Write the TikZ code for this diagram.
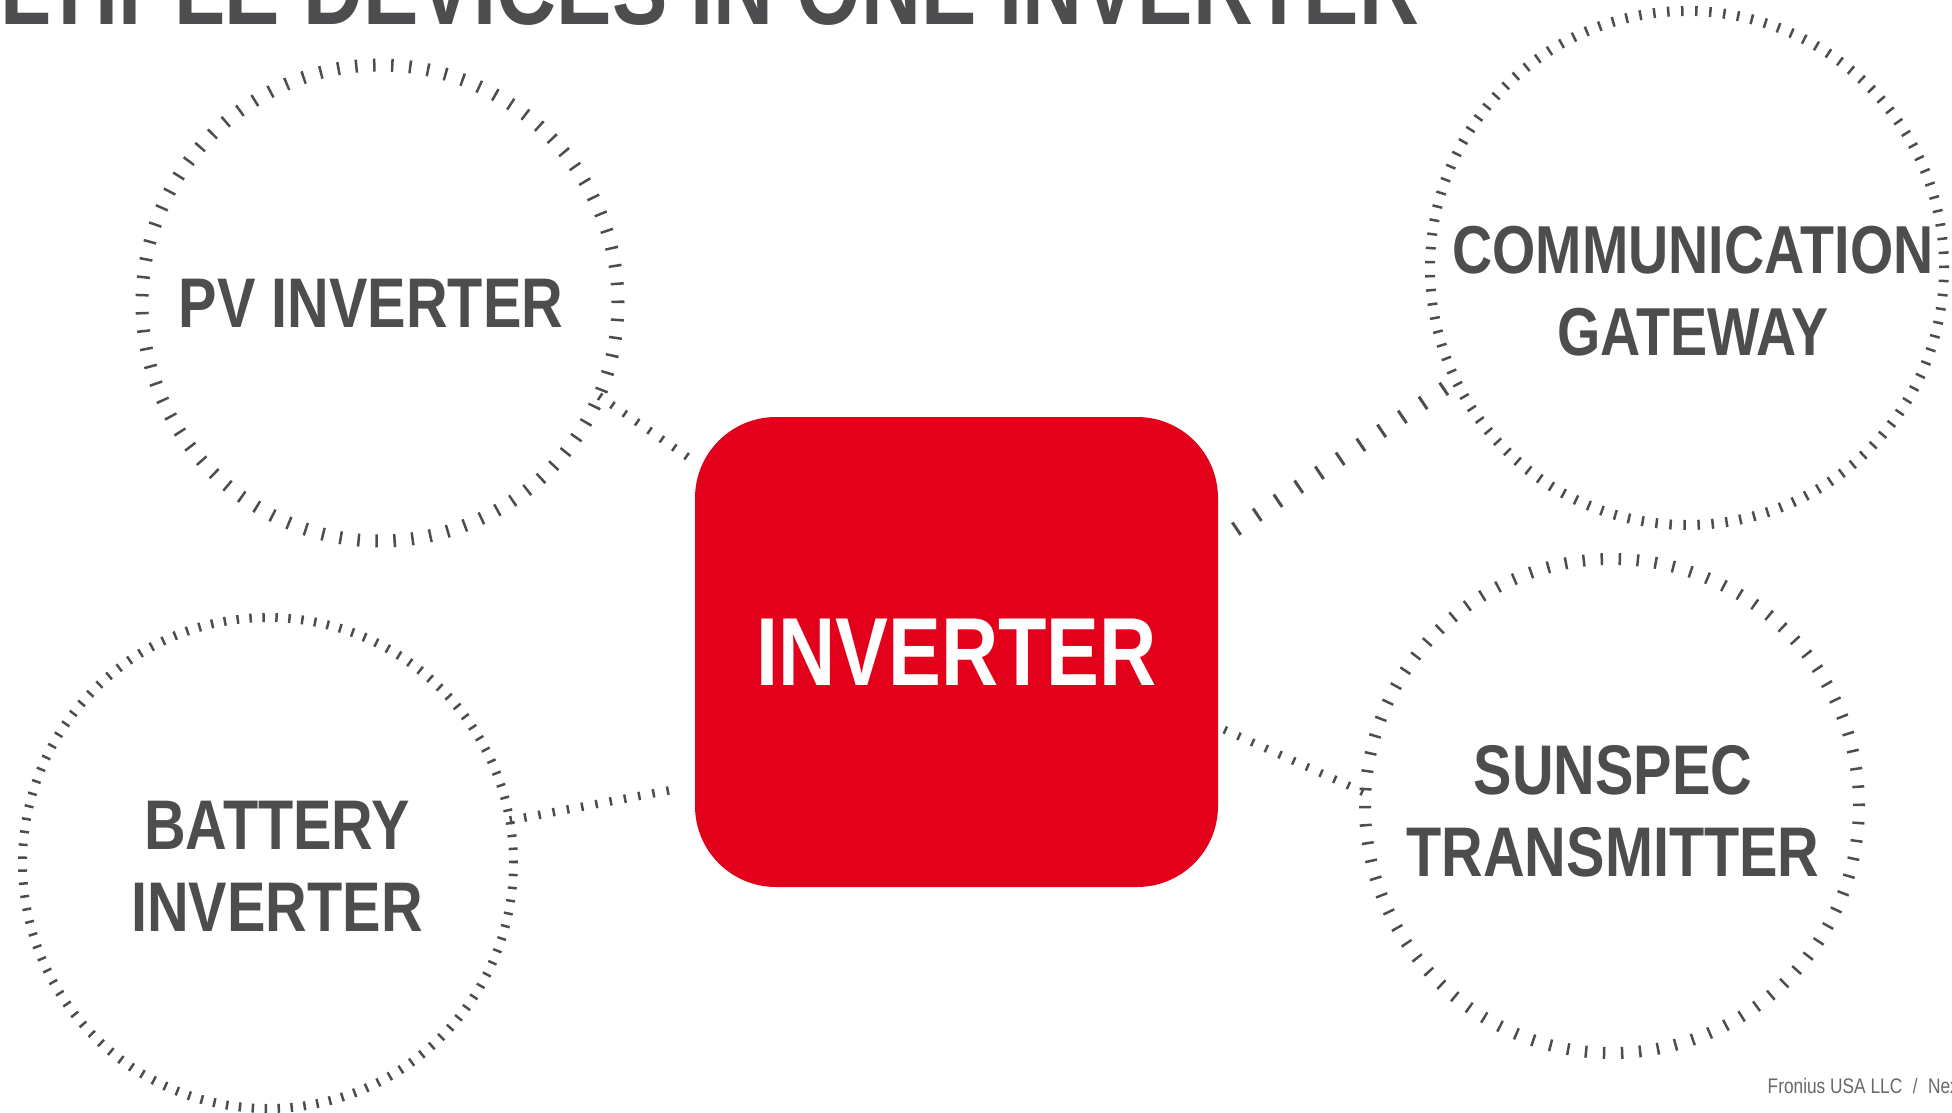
\documentclass[tikz,border=0pt]{standalone}
\usepackage{fontspec}
\setmainfont{Liberation Sans}[FakeStretch=0.82]
\usepackage{xcolor}

\definecolor{fronred}{HTML}{E2001A}
\definecolor{slate}{HTML}{4D4D4F}

\tikzset{
  devring/.style={circle, draw=slate, inner sep=0, outer sep=0},
  devtext/.style={text=slate, font=\bfseries\fontsize{20}{23.3}\selectfont, align=center, inner sep=0},
  linkdash/.style={draw=slate, dash pattern=on 0.25mm off #1},
}

\begin{document}
\begin{tikzpicture}[x=0.1mm,y=-0.1mm]
	\useasboundingbox (0,0) rectangle (1952,1113);

	\node[anchor=base east, inner sep=0, text=slate, font=\bfseries\fontsize{28.8}{32}\selectfont] (title) at (1420,24) {MULTIPLE DEVICES IN ONE INVERTER};

	\foreach \n/\x/\y/\d/\w/\g in {pv/380/303/47.6/1.3/1.5517, bat/268/863/49.1/0.9/1.0462, gw/1687/268/51.4/1.0/1.1542, ss/1612/806/49.4/1.2/1.5546} {
		\node[devring, minimum size=\d mm, line width=\w mm, dash pattern=on 0.25mm off \g mm] (\n) at (\x,\y) {};
	}

	\node[fill=fronred, rounded corners=8.1mm, minimum width=52.3mm, minimum height=47mm, inner sep=0, text=white, font=\bfseries\fontsize{27.5}{30}\selectfont] (inv) at (956.5,652) {INVERTER};

	\node[devtext] (pvtxt) at (371,303) {PV INVERTER};
	\node[devtext] (battxt) at (277,866) {BATTERY\\INVERTER};
	\node[devtext, font=\bfseries\fontsize{19.3}{23.3}\selectfont] (gwtxt) at (1693,291) {COMMUNICATION\\GATEWAY};
	\node[devtext] (sstxt) at (1613,811) {SUNSPEC\\TRANSMITTER};

	\draw[linkdash=1.25mm, line width=0.8mm] (pv.-23.5) -- (inv.144.4);
	\draw[linkdash=1.2mm, line width=0.85mm, shorten >=2mm] (bat.10.5) -- (inv.-153.4);
	\draw[draw=slate, dash pattern=on 0.3mm off 2.2mm, line width=1.5mm, shorten <=2mm] (inv.23.5) -- (gw.206.7);
	\draw[linkdash=1.25mm, line width=0.8mm, shorten <=0.6mm] (inv.-16.7) -- (ss.177.7);

	\node[anchor=base west, inner sep=0, text=slate!85, font=\fontsize{6}{7}\selectfont] (foot) at (1767,1093) {Fronius USA LLC\enspace/\enspace Nex};
\end{tikzpicture}
\end{document}
